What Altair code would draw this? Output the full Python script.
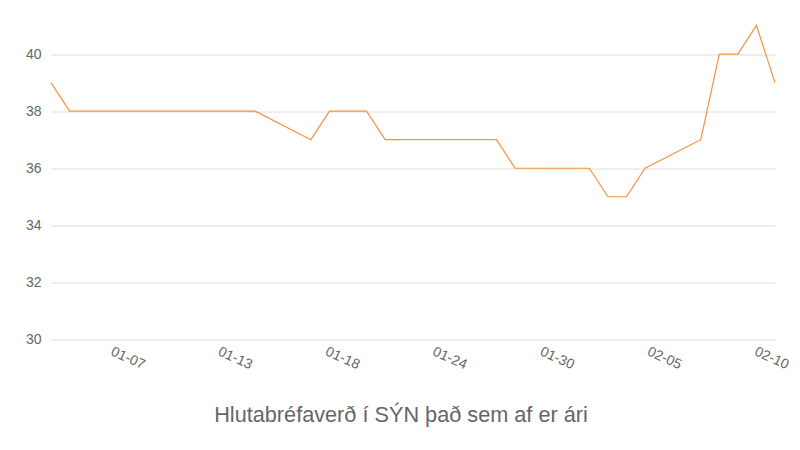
import altair as alt
import pandas as pd

# Trading days (weekends absent) and closing prices
dates = ["2022-01-03", "2022-01-04", "2022-01-05", "2022-01-06", "2022-01-07",
         "2022-01-10", "2022-01-11", "2022-01-12", "2022-01-13", "2022-01-14",
         "2022-01-17", "2022-01-18", "2022-01-19", "2022-01-20", "2022-01-21",
         "2022-01-24", "2022-01-25", "2022-01-26", "2022-01-27", "2022-01-28",
         "2022-01-31", "2022-02-01", "2022-02-02", "2022-02-03", "2022-02-04",
         "2022-02-07", "2022-02-08", "2022-02-09", "2022-02-10", "2022-02-11"]
prices = [39, 38, 38, 38, 38,
          38, 38, 38, 38, 38,
          37, 38, 38, 38, 37,
          37, 37, 37, 37, 36,
          36, 36, 35, 35, 36,
          37, 40, 40, 41, 39]

y_ticks = [30, 32, 34, 36, 38, 40]
title_text = "Hlutabréfaverð í SÝN það sem af er ári"

# x tick marks: 7 evenly spaced instants ending late on 02-10
last_tick = pd.Timestamp("2022-02-10 22:48", tz="UTC")
tick_step = pd.Timedelta(days=5.78)
x_ticks = [int((last_tick - tick_step * (6 - k)).value // 10**6) for k in range(7)]

df = pd.DataFrame({"date": dates, "price": prices})

FONT = "Liberation Sans"
GREY = "#666666"

chart = alt.Chart(df).mark_line(color="#f5923e", strokeWidth=1.2).encode(
    x=alt.X(
        "date:T",
        scale=alt.Scale(type="utc", nice=False),
        axis=alt.Axis(
            values=x_ticks, labelExpr="utcFormat(datum.value, '%m-%d')",
            labelAngle=24, labelAlign="center", labelBaseline="top",
            labelPadding=12, domain=False, ticks=False, grid=False, title=None,
            labelFontSize=14, labelColor=GREY, labelFont=FONT,
        ),
    ),
    y=alt.Y(
        "price:Q",
        scale=alt.Scale(domain=[30, 41], nice=False, zero=False),
        axis=alt.Axis(
            values=y_ticks, domain=False, ticks=False, grid=True,
            gridColor="#dddddd", gridWidth=1, labelPadding=10, title=None,
            labelFontSize=14, labelColor=GREY, labelFont=FONT,
        ),
    ),
).properties(
    width=724,
    height=314,
    padding={"left": 17, "top": 14.5, "right": 0, "bottom": 0},
    title=alt.TitleParams(
        title_text, orient="bottom", anchor="middle", fontSize=21.7,
        font=FONT, fontWeight="normal", color=GREY, offset=33, dx=-12,
    ),
).configure_view(stroke=None)

chart.save("out.html", embed_options={"renderer": "svg", "actions": False})
